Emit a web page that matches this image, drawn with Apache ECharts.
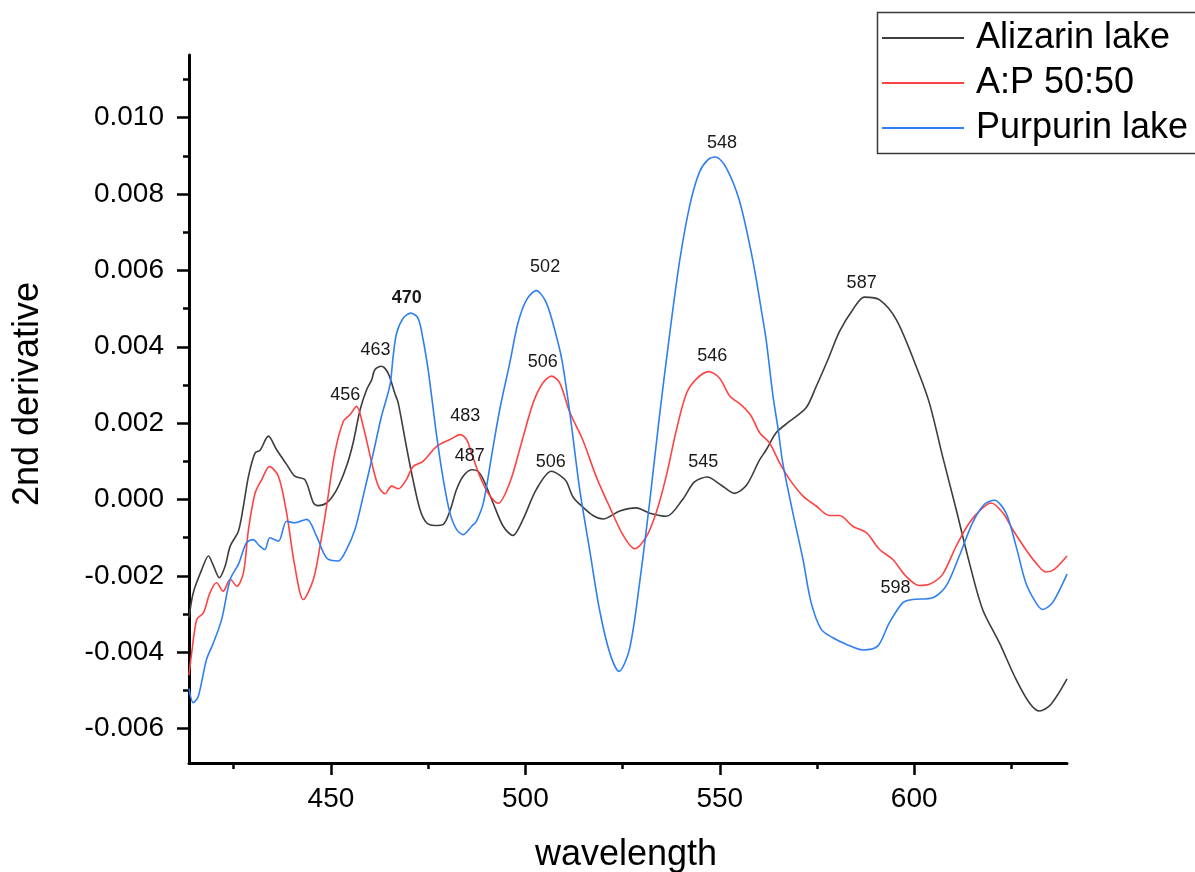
<!DOCTYPE html>
<html>
<head>
<meta charset="utf-8">
<title>2nd derivative spectra</title>
<script src="https://cdn.jsdelivr.net/npm/echarts@6/dist/echarts.min.js"></script>
<style>
  html, body { margin: 0; padding: 0; background: #fff; }
  #chart { width: 1195px; height: 872px; }
</style>
</head>
<body>
<div id="chart"></div>
<script>
// Second-derivative spectra: [wavelength (nm), value]
const alizarin = [
  [413.5, -0.00310], [414.6, -0.00244], [416.8, -0.00183], [418.5, -0.00148], [419.8, -0.00174],
  [421.3, -0.00205], [422.8, -0.00174], [424.1, -0.00122], [426.2, -0.00083], [427.5, -0.00017],
  [428.8, 0.00061], [430.5, 0.00122], [431.8, 0.00129], [433.9, 0.00166], [436.0, 0.00131],
  [438.6, 0.00092], [440.7, 0.00061], [443.3, 0.00052], [445.5, -0.00009], [446.7, -0.00016],
  [448.9, -0.00009], [451.5, 0.00026], [454.0, 0.00087], [455.7, 0.00148], [457.5, 0.00235],
  [459.2, 0.00288], [460.5, 0.00314], [461.3, 0.00340], [463.0, 0.00349], [464.7, 0.00331],
  [466.4, 0.00279], [467.3, 0.00253], [469.4, 0.00139], [471.1, 0.00052], [472.9, -0.00026],
  [474.6, -0.00061], [476.7, -0.00068], [478.9, -0.00065], [480.6, -0.00030], [482.3, 0.00026],
  [484.0, 0.00061], [486.2, 0.00078], [487.8, 0.00074], [489.2, 0.00052], [491.7, -0.00009],
  [494.3, -0.00070], [496.8, -0.00094], [499.4, -0.00052], [502.8, 0.00026], [506.7, 0.00074],
  [508.8, 0.00064], [510.5, 0.00048], [512.3, 0.00006], [514.8, -0.00020], [517.4, -0.00042],
  [520.0, -0.00051], [524.3, -0.00030], [528.5, -0.00022], [532.0, -0.00036], [536.3, -0.00044],
  [540.3, -0.00002], [543.5, 0.00046], [546.8, 0.00059], [550.3, 0.00038], [553.8, 0.00016],
  [556.9, 0.00038], [560.2, 0.00103], [562.0, 0.00131], [564.5, 0.00175], [568.0, 0.00205],
  [572.2, 0.00240], [574.8, 0.00296], [577.8, 0.00366], [580.8, 0.00440], [584.2, 0.00497],
  [587.2, 0.00530], [591.1, 0.00523], [595.4, 0.00471], [600.5, 0.00349], [603.9, 0.00253],
  [607.3, 0.00113], [610.8, -0.00026], [614.2, -0.00166], [617.6, -0.00288], [621.9, -0.00375],
  [626.2, -0.00471], [629.6, -0.00532], [632.2, -0.00554], [635.2, -0.00536], [639.3, -0.00470]
];

const mix5050 = [
  [413.5, -0.00460], [414.2, -0.00401], [415.5, -0.00314], [417.2, -0.00297], [418.9, -0.00244],
  [420.6, -0.00218], [422.3, -0.00240], [424.1, -0.00209], [425.8, -0.00227], [427.5, -0.00192],
  [428.8, -0.00078], [430.5, 0.00017], [432.2, 0.00052], [434.2, 0.00086], [436.5, 0.00061],
  [438.6, -0.00035], [440.7, -0.00174], [442.9, -0.00262], [445.5, -0.00209], [447.2, -0.00122],
  [448.9, -0.00017], [451.0, 0.00122], [453.2, 0.00205], [454.9, 0.00222], [456.6, 0.00244],
  [458.3, 0.00192], [460.5, 0.00096], [462.2, 0.00035], [463.9, 0.00015], [465.6, 0.00035],
  [467.3, 0.00028], [469.4, 0.00052], [471.1, 0.00086], [473.7, 0.00100], [477.2, 0.00139],
  [480.6, 0.00157], [483.3, 0.00170], [484.9, 0.00157], [486.2, 0.00120], [488.3, 0.00061],
  [490.4, 0.00017], [493.0, -0.00010], [496.0, 0.00044], [499.0, 0.00148], [502.0, 0.00253],
  [504.5, 0.00305], [506.7, 0.00323], [508.8, 0.00306], [511.4, 0.00229], [514.8, 0.00155],
  [518.3, 0.00058], [521.7, -0.00020], [525.1, -0.00093], [528.1, -0.00129], [531.1, -0.00098],
  [533.7, -0.00033], [536.3, 0.00064], [538.8, 0.00180], [541.4, 0.00277], [544.0, 0.00316],
  [547.2, 0.00335], [550.0, 0.00317], [552.5, 0.00272], [555.5, 0.00248], [558.0, 0.00220],
  [560.3, 0.00174], [562.8, 0.00148], [565.4, 0.00096], [568.0, 0.00052], [571.4, 0.00009],
  [574.8, -0.00017], [578.2, -0.00042], [580.8, -0.00042], [584.2, -0.00070], [587.7, -0.00087],
  [591.1, -0.00131], [594.5, -0.00157], [597.9, -0.00201], [601.3, -0.00225], [603.9, -0.00222],
  [607.3, -0.00196], [610.8, -0.00122], [614.2, -0.00061], [617.6, -0.00022], [619.8, -0.00009],
  [622.8, -0.00035], [625.3, -0.00078], [628.7, -0.00131], [631.3, -0.00166], [633.9, -0.00190],
  [636.0, -0.00183], [639.3, -0.00148]
];

const purpurin = [
  [413.5, -0.00495], [414.6, -0.00532], [415.9, -0.00515], [418.0, -0.00419], [419.8, -0.00375],
  [421.9, -0.00314], [424.1, -0.00209], [426.2, -0.00170], [428.3, -0.00113], [430.0, -0.00105],
  [431.5, -0.00120], [433.0, -0.00131], [434.3, -0.00100], [436.5, -0.00109], [438.6, -0.00057],
  [440.7, -0.00061], [443.8, -0.00052], [446.3, -0.00096], [448.9, -0.00153], [451.9, -0.00161],
  [454.0, -0.00131], [456.2, -0.00078], [458.3, 0.00009], [460.9, 0.00122], [463.0, 0.00218],
  [465.2, 0.00300], [466.0, 0.00375], [466.9, 0.00436], [468.6, 0.00475], [470.5, 0.00488],
  [472.4, 0.00475], [473.7, 0.00419], [475.0, 0.00340], [475.9, 0.00270], [477.2, 0.00166],
  [478.9, 0.00052], [480.6, -0.00035], [482.3, -0.00078], [484.0, -0.00092], [486.2, -0.00070],
  [487.4, -0.00057], [489.2, -0.00009], [491.3, 0.00113], [493.4, 0.00235], [496.0, 0.00358],
  [498.1, 0.00462], [500.3, 0.00523], [502.8, 0.00547], [505.4, 0.00515], [508.0, 0.00427],
  [509.5, 0.00360], [511.4, 0.00230], [514.0, 0.00025], [516.5, -0.00130], [519.1, -0.00290],
  [521.7, -0.00401], [524.1, -0.00450], [526.8, -0.00391], [529.4, -0.00217], [532.0, -0.00004],
  [534.5, 0.00219], [537.1, 0.00432], [539.7, 0.00626], [542.3, 0.00771], [544.8, 0.00858],
  [547.0, 0.00890], [548.9, 0.00897], [551.7, 0.00868], [555.1, 0.00781], [558.5, 0.00626],
  [561.1, 0.00471], [562.0, 0.00413], [563.7, 0.00270], [565.0, 0.00185], [566.2, 0.00096],
  [568.8, -0.00035], [571.4, -0.00157], [573.5, -0.00270], [576.1, -0.00340], [579.1, -0.00362],
  [582.5, -0.00379], [586.8, -0.00394], [590.6, -0.00384], [593.6, -0.00323], [597.1, -0.00270],
  [599.6, -0.00262], [604.8, -0.00257], [608.2, -0.00227], [611.6, -0.00148], [615.0, -0.00061],
  [618.0, -0.00013], [620.6, -0.00002], [623.6, -0.00035], [626.2, -0.00122], [628.7, -0.00218],
  [631.3, -0.00270], [633.0, -0.00288], [635.6, -0.00270], [639.3, -0.00195]
];

// Annotated band positions: [wavelength, curve value at the band]
const alizarinPeaks = [[463, 0.00349], [487, 0.00077], [506, 0.00073], [545, 0.00055], [587, 0.00530]];
const mixPeaks = [[456, 0.00240], [483, 0.00170], [506, 0.00320], [546, 0.00332]];
const purpurinPeaks = [[470, 0.00488], [502, 0.00542], [548, 0.00895], [598, -0.00263]];

const seriesNames = ['Alizarin lake', 'A:P 50:50', 'Purpurin lake'];

// Axis ticks
const xMajorTicks = [450, 500, 550, 600];
const xMinorTicks = [425, 475, 525, 575, 625];
const yMajorTicks = [-0.006, -0.004, -0.002, 0.000, 0.002, 0.004, 0.006, 0.008, 0.010];
const yMinorTicks = [-0.005, -0.003, -0.001, 0.001, 0.003, 0.005, 0.007, 0.009, 0.011];

const FONT = '"Liberation Sans", Arial, sans-serif';
const COLORS = ['#3d3d3d', '#ff4242', '#2f7ff0'];

// Pixel nudges for the band labels (placement of the text above each band)
const labelShift = {
  'a463': [-6, -16], 'a487': [-5, -14], 'a506': [2, -10], 'a545': [3, -16], 'a587': [-2, -14],
  'm456': [-9, -13], 'm483': [6, -19], 'm506': [-6, -15], 'm546': [8, -17],
  'p470': [-2, -15], 'p502': [12, -25], 'p548': [10, -15], 'p598': [-11, -12]
};

function bandMarks(peaks, key) {
  return {
    silent: true,
    symbol: 'circle',
    symbolSize: 0,
    itemStyle: { color: 'rgba(0,0,0,0)' },
    data: peaks.map(function (p) {
      const sh = labelShift[key + p[0]] || [0, -14];
      return {
        coord: [p[0], p[1]],
        label: {
          show: true,
          position: 'inside',
          offset: sh,
          formatter: String(p[0]),
          color: '#1a1a1a',
          fontFamily: FONT,
          fontSize: 18,
          fontWeight: (key + p[0]) === 'p470' ? 'bold' : 'normal'
        }
      };
    })
  };
}

function lineSeries(name, data, color, peaks, key) {
  return {
    name: name,
    type: 'line',
    data: data,
    xAxisIndex: 0,
    yAxisIndex: 0,
    symbol: 'none',
    showSymbol: false,
    smooth: 0.3,
    clip: true,
    lineStyle: { color: color, width: 1.6 },
    itemStyle: { color: color },
    markPoint: bandMarks(peaks, key)
  };
}

const X_MIN = 413.5, X_MAX = 639.3;
const Y_MIN = -0.0069, Y_MAX = 0.01164;

const axisLineStyle = { color: '#000', width: 3 };

const chart = echarts.init(document.getElementById('chart'), null, { renderer: 'canvas' });
chart.setOption({
  animation: false,
  backgroundColor: '#ffffff',
  textStyle: { fontFamily: FONT },
  grid: { left: 189, right: 128, top: 55, bottom: 109, containLabel: false },
  legend: {
    data: seriesNames.map(function (n) { return { name: n, icon: 'rect' }; }),
    orient: 'vertical',
    left: 877,
    top: 12,
    padding: [8, 0, 7, 5],
    itemGap: 9,
    itemWidth: 82,
    itemHeight: 2,
    borderWidth: 0,
    selectedMode: false,
    z: 6,
    textStyle: { fontFamily: FONT, fontSize: 36, color: '#000', padding: [0, 0, 0, 7] }
  },
  xAxis: [
    {
      type: 'value', min: X_MIN, max: X_MAX, gridIndex: 0,
      splitLine: { show: false },
      axisLine: { show: true, onZero: false, lineStyle: axisLineStyle },
      axisTick: { show: true, length: 12, customValues: xMajorTicks, lineStyle: { color: '#000', width: 2.5 } },
      axisLabel: { show: true, customValues: xMajorTicks, margin: 22, fontSize: 28, color: '#000', fontFamily: FONT }
    },
    {
      type: 'value', min: X_MIN, max: X_MAX, gridIndex: 0, position: 'bottom',
      splitLine: { show: false },
      axisLine: { show: false, onZero: false },
      axisTick: { show: true, length: 6, customValues: xMinorTicks, lineStyle: { color: '#000', width: 2.5 } },
      axisLabel: { show: false, customValues: xMinorTicks }
    }
  ],
  yAxis: [
    {
      type: 'value', min: Y_MIN, max: Y_MAX, gridIndex: 0, position: 'left',
      splitLine: { show: false },
      axisLine: { show: true, onZero: false, lineStyle: axisLineStyle },
      axisTick: { show: true, length: 12, customValues: yMajorTicks, lineStyle: { color: '#000', width: 2.5 } },
      axisLabel: {
        show: true, customValues: yMajorTicks, margin: 25, fontSize: 28, color: '#000', fontFamily: FONT,
        formatter: function (v) { return v.toFixed(3); }
      }
    },
    {
      type: 'value', min: Y_MIN, max: Y_MAX, gridIndex: 0, position: 'left', offset: 0,
      splitLine: { show: false },
      axisLine: { show: false, onZero: false },
      axisTick: { show: true, length: 6, customValues: yMinorTicks, lineStyle: { color: '#000', width: 2.5 } },
      axisLabel: { show: false, customValues: yMinorTicks }
    }
  ],
  graphic: [
    {
      // legend frame: top, left and bottom edges; it runs on past the page's right edge
      type: 'polyline', z: 5,
      shape: { points: [[1260, 12.5], [877.5, 12.5], [877.5, 153.5], [1260, 153.5]] },
      style: { fill: null, stroke: '#3a3a3a', lineWidth: 1.5 }
    },
    {
      type: 'text', x: 28, y: 394, rotation: Math.PI / 2,
      style: {
        text: '2nd derivative', fill: '#000', font: '36px ' + FONT,
        textAlign: 'center', textVerticalAlign: 'middle'
      }
    },
    {
      type: 'text', x: 626, y: 855,
      style: {
        text: 'wavelength', fill: '#000', font: '36px ' + FONT,
        textAlign: 'center', textVerticalAlign: 'middle'
      }
    }
  ],
  series: [
    lineSeries(seriesNames[0], alizarin, COLORS[0], alizarinPeaks, 'a'),
    lineSeries(seriesNames[1], mix5050, COLORS[1], mixPeaks, 'm'),
    lineSeries(seriesNames[2], purpurin, COLORS[2], purpurinPeaks, 'p')
  ]
});
</script>
</body>
</html>
